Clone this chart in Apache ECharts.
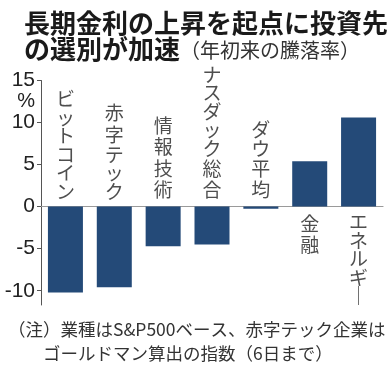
<!DOCTYPE html>
<html><head><meta charset="utf-8">
<script src="https://cdn.jsdelivr.net/npm/echarts@6/dist/echarts.min.js"></script>
<style>html,body{margin:0;padding:0;background:#fff}#c{width:392px;height:368px}</style>
</head><body><div id="c"></div>
<script>
const titleLine1 = '長期金利の上昇を起点に投資先';
const titleLine2 = 'の選別が加速';
const subtitle = '（年初来の騰落率）';
const noteLine1 = '（注）業種はS&P500ベース、赤字テック企業は';
const noteLine2 = 'ゴールドマン算出の指数（6日まで）';
const categories = ['ビットコイン', '赤字テック', '情報技術', 'ナスダック総合', 'ダウ平均', '金融', 'エネルギー'];
const values = [-10.2, -9.6, -4.7, -4.5, -0.25, 5.4, 10.6];
const yTicks = [-10, -5, 0, 5, 10, 15];
const yUnit = '%';

const CJK = '"Noto Sans CJK JP", "Noto Sans", sans-serif';
const NUM = '"Liberation Sans Narrow", "Liberation Sans", Arial, sans-serif';

function vertical(s) {
  return s.split('').map(c => {
    const ch = c === 'ー' ? '｜' : c;
    const kana = /[\u30A0-\u30FF]/.test(c);
    return '{' + (kana ? 'a' : 'k') + '|' + ch + '}';
  }).join('\n');
}

const chart = echarts.init(document.getElementById('c'), null, {renderer: 'canvas'});
chart.setOption({
  animation: false,
  backgroundColor: '#fff',
  title: [
    {
      text: '{a|' + titleLine1 + '}\n{a|' + titleLine2 + '}{s|' + subtitle + '}',
      left: 19, top: 5,
      textStyle: {
        rich: {
          a: {fontFamily: CJK, fontSize: 26, fontWeight: 'bold', color: '#1a1a1a', lineHeight: 26},
          s: {fontFamily: CJK, fontSize: 20, fontWeight: 'normal', color: '#333', lineHeight: 26, padding: [3, 0, 0, 0]}
        }
      }
    },
    {
      text: noteLine1 + '\n\u3000\u3000' + noteLine2,
      left: 3, top: 312,
      textStyle: {fontFamily: CJK, fontSize: 17.5, fontWeight: 'normal', color: '#333', lineHeight: 24}
    }
  ],
  grid: {left: 41, right: 9, top: 80.5, bottom: 63, containLabel: false},
  xAxis: {
    type: 'category',
    data: categories,
    axisLine: {onZero: true, lineStyle: {color: '#9a9a9a', width: 1.2}},
    axisTick: {show: false},
    axisLabel: {show: false}
  },
  yAxis: {
    type: 'value',
    min: -11.7, max: 15,
    axisLine: {show: true, lineStyle: {color: '#555', width: 1}},
    axisTick: {show: true, length: 4, customValues: yTicks, lineStyle: {color: '#555'}},
    axisLabel: {customValues: yTicks, fontFamily: NUM, fontSize: 21, color: '#222', margin: 6},
    splitLine: {show: false}
  },
  series: [
    {
      type: 'bar',
      data: values,
      barWidth: 35,
      itemStyle: {color: '#244a78'}
    },
    {
      type: 'scatter',
      symbolSize: 0,
      silent: true,
      data: values.map((v, i) => ({
        value: 0,
        label: {
          show: true,
          position: v < 0 ? 'top' : 'bottom',
          distance: 6,
          formatter: vertical(categories[i]),
          color: '#222',
          rich: {
            a: {fontFamily: CJK, fontSize: 19, lineHeight: 18.5, color: '#222'},
            k: {fontFamily: CJK, fontSize: 19, lineHeight: 21.5, color: '#222'}
          }
        }
      }))
    }
  ]
});
const top15 = chart.convertToPixel({yAxisIndex: 0}, 15);
chart.setOption({
  graphic: [{
    type: 'text',
    right: 392 - 35,
    top: top15 + 11,
    style: {text: yUnit, font: '20px ' + NUM, fill: '#222'}
  }]
});
</script></body></html>
